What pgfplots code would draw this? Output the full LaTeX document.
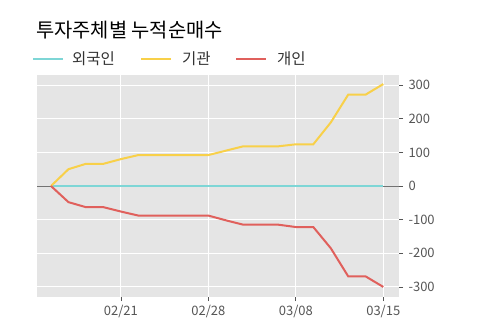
\documentclass[border=0pt]{standalone}
\usepackage{pgfplots}
\pgfplotsset{compat=1.18}
\usepackage{fontspec}
\setmainfont{Noto Sans CJK KR}
\definecolor{bgc}{HTML}{E5E5E5}
\definecolor{tealc}{HTML}{7ED6D6}
\definecolor{yelc}{HTML}{F8D049}
\definecolor{redc}{HTML}{E0605C}
\definecolor{labc}{HTML}{555555}
\begin{document}
\begin{tikzpicture}[x=1bp,y=1bp]
\path[use as bounding box] (0,0) rectangle (500,323);
\node[anchor=base west,font=\fontsize{19.8bp}{22bp}\selectfont,inner sep=0] at (36,286) {투자주체별 누적순매수};
\draw[draw=tealc,line width=2bp] (33,264) -- (63,264);
\node[anchor=base west,font=\fontsize{15.5bp}{17bp}\selectfont,inner sep=0,text=black!80] at (72,258.5) {외국인};
\draw[draw=yelc,line width=2bp] (141,264) -- (171,264);
\node[anchor=base west,font=\fontsize{15.5bp}{17bp}\selectfont,inner sep=0,text=black!80] at (182,258.5) {기관};
\draw[draw=redc,line width=2bp] (236,264) -- (266,264);
\node[anchor=base west,font=\fontsize{15.5bp}{17bp}\selectfont,inner sep=0,text=black!80] at (277,258.5) {개인};
\begin{axis}[
  at={(37bp,26bp)}, anchor=south west,
  width=362bp, height=222bp, scale only axis,
  xmin=-0.8, xmax=19.9, ymin=-330, ymax=330,
  axis background/.style={fill=bgc},
  axis line style={draw=none},
  grid=major, grid style={white, line width=1bp},
  xtick={4,9,14,19}, xticklabels={02/21,02/28,03/08,03/15},
  ytick={-300,-200,-100,0,100,200,300},
  xtick pos=bottom, ytick pos=right,
  xticklabel pos=bottom, yticklabel pos=right,
  tick align=outside,
  major tick length=4bp,
  tick style={labc, line width=0.8bp},
  every tick label/.style={text=labc, font=\fontsize{13bp}{15bp}\selectfont},
  /pgf/number format/assume math mode=true,
  yticklabel style={xshift=2bp},
  xticklabel style={yshift=-1bp},
  clip=false,
]
\addplot[draw=black!55, line width=1bp] coordinates {(-0.8,0) (19.9,0)};
\addplot[tealc, line width=2bp] coordinates {
(0,0) (1,0) (2,0) (3,0) (4,0) (5,0) (6,0) (7,0) (8,0) (9,0)
(10,0) (11,0) (12,0) (13,0) (14,0) (15,0) (16,0) (17,0) (18,0) (19,0)};
\addplot[yelc, line width=2bp] coordinates {
(0,0) (1,50) (2,66) (3,66) (4,80) (5,92) (6,92) (7,92) (8,92) (9,92)
(10,105) (11,118) (12,118) (13,118) (14,124) (15,124) (16,189) (17,272) (18,272) (19,303)};
\addplot[redc, line width=2bp] coordinates {
(0,0) (1,-48) (2,-63) (3,-63) (4,-76) (5,-88) (6,-88) (7,-88) (8,-88) (9,-88)
(10,-102) (11,-115) (12,-115) (13,-115) (14,-122) (15,-122) (16,-185) (17,-269) (18,-269) (19,-300)};
\end{axis}
\end{tikzpicture}
\end{document}
